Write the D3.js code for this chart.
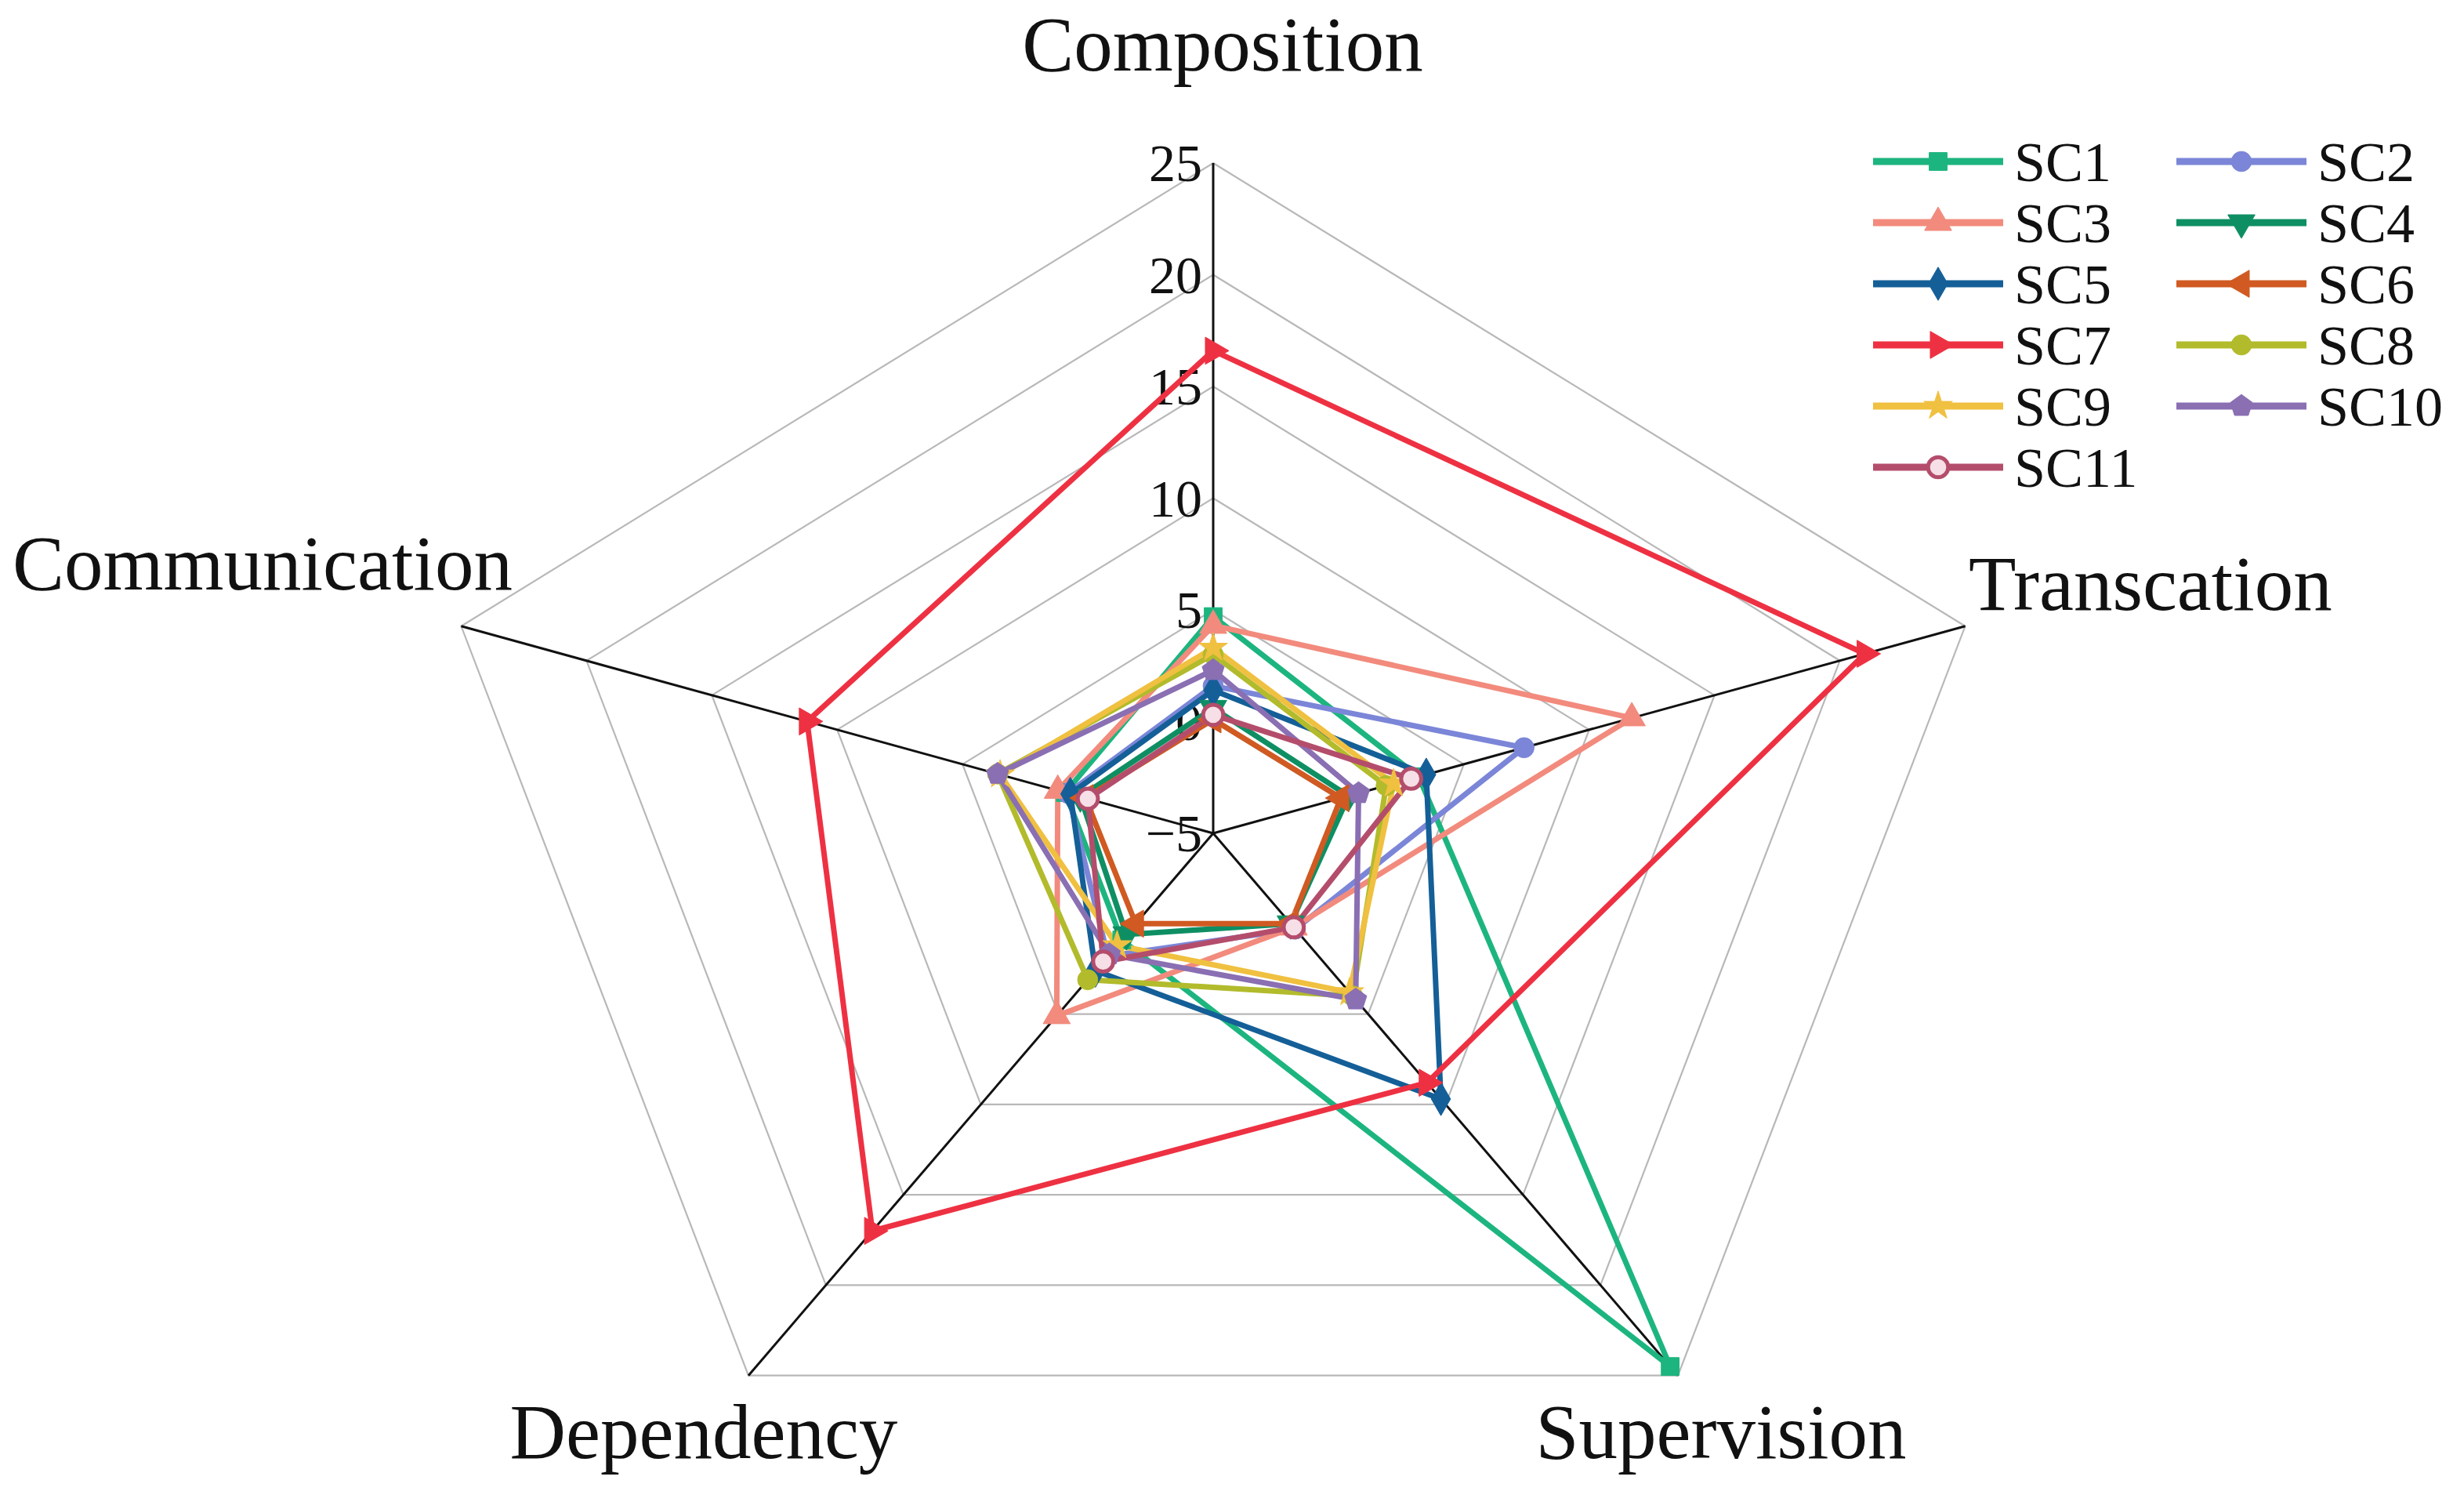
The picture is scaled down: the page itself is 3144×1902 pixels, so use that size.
<!DOCTYPE html>
<html>
<head>
<meta charset="utf-8">
<script src="https://cdn.jsdelivr.net/npm/d3@7"></script>
<style>
  body { margin: 0; background: #fff; }
  text { font-family: "Liberation Serif", "DejaVu Serif", serif; fill: #111; }
</style>
</head>
<body>
<svg id="chart" width="3144" height="1902"></svg>
<script>
// axes, clockwise from the top
const axes = ['Composition', 'Transcation', 'Supervision', 'Dependency', 'Communication'];
const tickValues = [-5, 0, 5, 10, 15, 20, 25];
const seriesNames = ['SC1', 'SC2', 'SC3', 'SC4', 'SC5', 'SC6', 'SC7', 'SC8', 'SC9', 'SC10', 'SC11'];

// values per series, same order as axes
const sc1  = [4.7, 3.2, 24.5, 0.9, 0.9];
const sc2  = [1.6, 7.4, 0.3, 1.8, 0.8];
const sc3  = [4.3, 11.7, 0.2, 5.1, 1.2];
const sc4  = [0.6, 0.4, 0.0, 0.6, 0.3];
const sc5  = [1.4, 3.5, 9.7, 2.6, 0.7];
const sc6  = [0.1, 0.1, 0.0, 0.0, 0.1];
const sc7  = [16.6, 21.0, 8.8, 17.0, 11.2];
const sc8  = [3.0, 1.9, 4.0, 3.1, 3.6];
const sc9  = [3.3, 2.2, 3.8, 1.2, 3.5];
const sc10 = [2.3, 0.8, 4.2, 1.7, 3.6];
const sc11 = [0.3, 2.9, 0.2, 2.1, 0.0];
const seriesValues = [sc1, sc2, sc3, sc4, sc5, sc6, sc7, sc8, sc9, sc10, sc11];

const colors = ['#1db57f', '#7b86d8', '#f28b7d', '#0e8f63', '#145f97', '#d05a22',
                '#ee3142', '#b2bb2b', '#f0c040', '#8a6fb3', '#b44d6c'];

const cx = 1548, cy = 1063, R = 855, stretch = 1.18;
const svg = d3.select('#chart');

const rScale = d3.scaleLinear().domain([-5, 25]).range([0, R]);
const angle = i => i * 2 * Math.PI / axes.length;
const px = (i, v) => cx + stretch * rScale(v) * Math.sin(angle(i));
const py = (i, v) => cy - rScale(v) * Math.cos(angle(i));

// pentagon marker
const symbolPentagon = {
    draw(ctx, size) {
        const r = Math.sqrt(size / 2.378);
        for (let k = 0; k < 5; k++) {
            const a = k * 2 * Math.PI / 5;
            const x = r * Math.sin(a), y = -r * Math.cos(a);
            if (k === 0) ctx.moveTo(x, y); else ctx.lineTo(x, y);
        }
        ctx.closePath();
    }
};
const markers = [
    {type: d3.symbolSquare, rot: 0},
    {type: d3.symbolCircle, rot: 0},
    {type: d3.symbolTriangle, rot: 0},
    {type: d3.symbolTriangle, rot: 180},
    {type: d3.symbolDiamond, rot: 0},
    {type: d3.symbolTriangle, rot: -90},
    {type: d3.symbolTriangle, rot: 90},
    {type: d3.symbolCircle, rot: 0},
    {type: d3.symbolStar, rot: 0},
    {type: symbolPentagon, rot: 0},
    {type: d3.symbolCircle, rot: 0}
];
const markerSize = 520;

// grid rings
const grid = svg.append('g');
tickValues.slice(1).forEach(t => {
    const pts = axes.map((a, i) => [px(i, t), py(i, t)]);
    grid.append('polygon')
        .attr('points', pts.map(p => p.join(',')).join(' '))
        .attr('fill', 'none')
        .attr('stroke', '#b8b8b8')
        .attr('stroke-width', 2.2);
});

// spokes
axes.forEach((a, i) => {
    grid.append('line')
        .attr('x1', cx).attr('y1', cy)
        .attr('x2', px(i, 25)).attr('y2', py(i, 25))
        .attr('stroke', '#111')
        .attr('stroke-width', 3);
});

// tick labels on the top spoke
grid.selectAll('.tick')
    .data(tickValues)
    .enter()
    .append('text')
    .attr('x', cx - 14)
    .attr('y', d => py(0, d))
    .attr('dy', '0.34em')
    .attr('text-anchor', 'end')
    .style('font-size', '68px')
    .text(d => d < 0 ? '\u2212' + Math.abs(d) : d);

// axis labels
const labelPos = [
    {x: 1560, y: 90, anchor: 'middle'},
    {x: 2512, y: 778, anchor: 'start'},
    {x: 2196, y: 1860, anchor: 'middle'},
    {x: 898, y: 1860, anchor: 'middle'},
    {x: 654, y: 752, anchor: 'end'}
];
axes.forEach((a, i) => {
    svg.append('text')
        .attr('x', labelPos[i].x)
        .attr('y', labelPos[i].y)
        .attr('text-anchor', labelPos[i].anchor)
        .style('font-size', '99px')
        .text(a);
});

// series
const line = d3.line().curve(d3.curveLinearClosed);
const plot = svg.append('g');
seriesValues.forEach((vals, s) => {
    plot.append('path')
        .attr('d', line(vals.map((v, i) => [px(i, v), py(i, v)])))
        .attr('fill', 'none')
        .attr('stroke', colors[s])
        .attr('stroke-width', 7)
        .attr('stroke-linejoin', 'round');
});
const drawMarker = (g, s, x, y) => {
    const m = markers[s];
    g.append('path')
        .attr('d', d3.symbol().type(m.type).size(s === 8 ? markerSize * 0.8 : markerSize)())
        .attr('transform', `translate(${x},${y}) rotate(${m.rot})`)
        .attr('fill', s === 10 ? '#f6dfe6' : colors[s])
        .attr('stroke', colors[s])
        .attr('stroke-width', s === 10 ? 5 : 1);
};
seriesValues.forEach((vals, s) => {
    vals.forEach((v, i) => drawMarker(plot, s, px(i, v), py(i, v)));
});

// legend, two columns
const legend = svg.append('g');
seriesNames.forEach((name, s) => {
    const col = s % 2, row = Math.floor(s / 2);
    const x0 = col === 0 ? 2390 : 2777;
    const y0 = 206 + row * 78;
    legend.append('line')
        .attr('x1', x0).attr('x2', x0 + 166)
        .attr('y1', y0).attr('y2', y0)
        .attr('stroke', colors[s])
        .attr('stroke-width', 9);
    drawMarker(legend, s, x0 + 83, y0);
    legend.append('text')
        .attr('x', x0 + 180)
        .attr('y', y0)
        .attr('dy', '0.35em')
        .style('font-size', '72px')
        .text(name);
});
</script>
</body>
</html>
